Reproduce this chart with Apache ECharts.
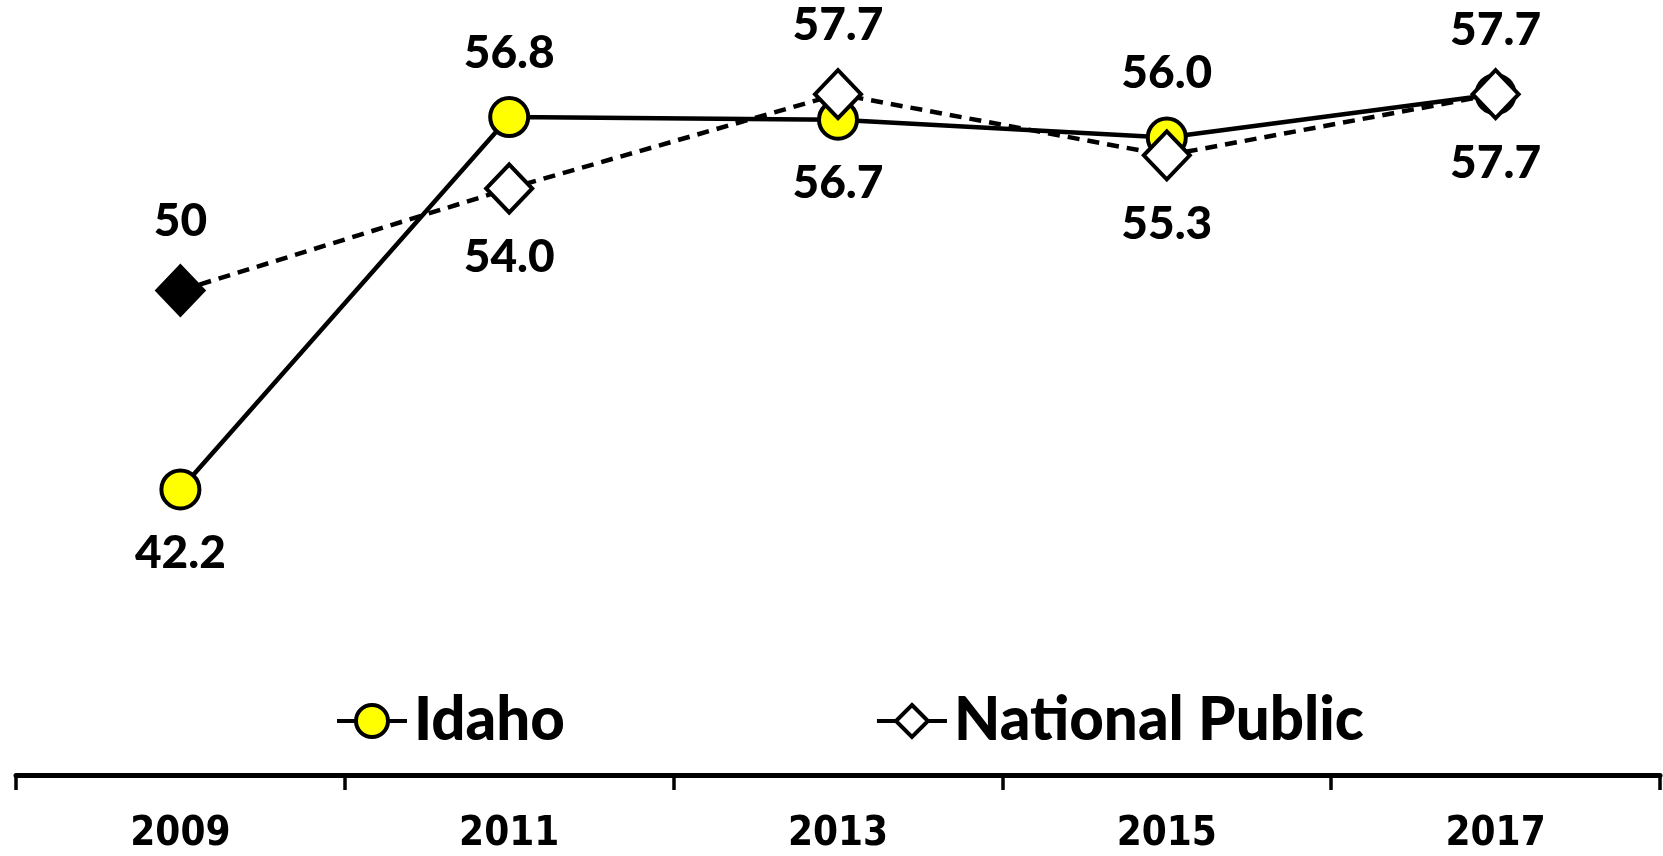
<!DOCTYPE html>
<html>
<head>
<meta charset="utf-8">
<script src="https://cdn.jsdelivr.net/npm/echarts@6/dist/echarts.min.js"></script>
<style>
  html, body { margin: 0; padding: 0; background: #fff; }
  #chart_div { width: 1663px; height: 856px; }
</style>
</head>
<body>
<div id="chart_div"></div>
<script>
var years = ["2009", "2011", "2013", "2015", "2017"];
var idaho = [42.2, 56.8, 56.7, 56.0, 57.7];
var national = [50, 54.0, 57.7, 55.3, 57.7];
var idahoLabelPos = ["bottom", "top", "bottom", "top", "top"];
var nationalLabelPos = ["top", "bottom", "top", "bottom", "bottom"];
var idahoText = ["42.2", "56.8", "56.7", "56.0", "57.7"];
var nationalText = ["50", "54.0", "57.7", "55.3", "57.7"];

var labelFont = "Lato, 'Open Sans', sans-serif";

function buildData(values, positions, texts, extra) {
  return values.map(function (v, i) {
    var item = {
      value: v,
      label: {
        show: true,
        position: positions[i],
        distance: 20,
        formatter: texts[i]
      }
    };
    if (extra && extra[i]) {
      item.itemStyle = extra[i];
    }
    return item;
  });
}

var myChart = echarts.init(document.getElementById("chart_div"));
var option = {
  animation: false,
  backgroundColor: "#fff",
  grid: {
    left: 16,
    right: 3,
    top: 10,
    bottom: 81
  },
  legend: {
    top: 686,
    left: 330,
    itemGap: 310,
    itemWidth: 70,
    itemHeight: 40,
    lineStyle: { width: 4, type: "solid", color: "#000" },
    itemStyle: { borderWidth: 4, borderColor: "#000" },
    textStyle: {
      color: "#000",
      fontSize: 60,
      fontWeight: 900,
      fontFamily: labelFont,
      padding: [0, 0, 0, 2]
    },
    data: ["Idaho", "National Public"]
  },
  xAxis: {
    type: "category",
    data: years,
    boundaryGap: true,
    axisLine: { lineStyle: { color: "#000", width: 5 } },
    axisTick: { show: true, length: 15, lineStyle: { color: "#000", width: 3.5 } },
    axisLabel: {
      color: "#000",
      fontSize: 40,
      fontWeight: "bold",
      fontFamily: "'Liberation Sans Narrow', 'DejaVu Sans Condensed', sans-serif",
      margin: 40
    }
  },
  yAxis: {
    type: "value",
    min: 31,
    max: 61,
    show: false,
    splitLine: { show: false }
  },
  series: [
    {
      name: "Idaho",
      type: "line",
      symbol: "circle",
      symbolSize: 38,
      lineStyle: { color: "#000", width: 4.5 },
      itemStyle: { color: "#ffff00", borderColor: "#000", borderWidth: 4 },
      label: {
        color: "#000",
        fontSize: 46,
        fontWeight: 900,
        fontFamily: labelFont
      },
      data: buildData(idaho, idahoLabelPos, idahoText)
    },
    {
      name: "National Public",
      type: "line",
      symbol: "diamond",
      symbolSize: [46, 48],
      z: 3,
      lineStyle: { color: "#000", width: 4.5, type: [12, 8] },
      itemStyle: { color: "#fff", borderColor: "#000", borderWidth: 4 },
      label: {
        color: "#000",
        fontSize: 46,
        fontWeight: 900,
        fontFamily: labelFont
      },
      data: buildData(national, nationalLabelPos, nationalText, [{ color: "#000", borderColor: "#000" }])
    }
  ]
};
myChart.setOption(option);
</script>
</body>
</html>
